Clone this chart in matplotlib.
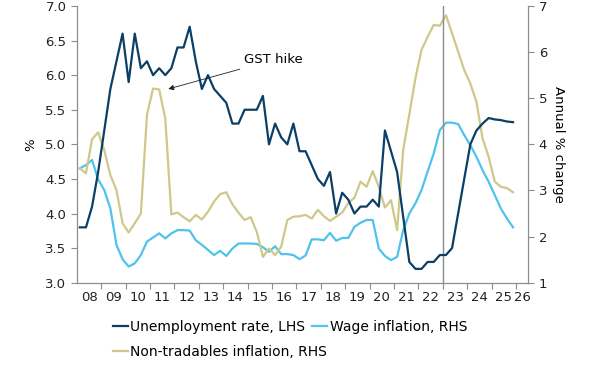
import numpy as np
import matplotlib
matplotlib.use("Agg")
import matplotlib.pyplot as plt

# quarterly data, 2008Q1 .. 2025Q4 (plotted at mid-quarter)
start_year = 2008
unemployment = [3.8, 3.8, 4.1, 4.6, 5.2, 5.8, 6.2, 6.6, 5.9, 6.6, 6.1, 6.2,
                6.0, 6.1, 6.0, 6.1, 6.4, 6.4, 6.7, 6.2, 5.8, 6.0, 5.8, 5.7,
                5.6, 5.3, 5.3, 5.5, 5.5, 5.5, 5.7, 5.0, 5.3, 5.1, 5.0, 5.3,
                4.9, 4.9, 4.7, 4.5, 4.4, 4.6, 4.0, 4.3, 4.2, 4.0, 4.1, 4.1,
                4.2, 4.1, 5.2, 4.9, 4.6, 3.95, 3.3, 3.2, 3.2, 3.3, 3.3, 3.4,
                3.4, 3.5, 4.0, 4.5, 5.0, 5.2, 5.3, 5.38, 5.36, 5.35, 5.33, 5.32]
wage_inflation = [3.48, 3.55, 3.66, 3.24, 3.01, 2.61, 1.82, 1.51, 1.35, 1.42, 1.60, 1.89,
                  1.98, 2.07, 1.96, 2.07, 2.14, 2.14, 2.13, 1.92, 1.82, 1.71, 1.60, 1.69,
                  1.58, 1.74, 1.85, 1.85, 1.85, 1.84, 1.77, 1.67, 1.79, 1.62, 1.62, 1.60,
                  1.51, 1.59, 1.94, 1.94, 1.92, 2.08, 1.91, 1.97, 1.97, 2.21, 2.30, 2.36,
                  2.36, 1.74, 1.58, 1.49, 1.56, 2.14, 2.50, 2.72, 3.01, 3.41, 3.80, 4.31,
                  4.47, 4.47, 4.44, 4.20, 3.98, 3.73, 3.44, 3.19, 2.90, 2.61, 2.39, 2.20]
non_tradables = [3.48, 3.37, 4.11, 4.26, 3.88, 3.33, 3.01, 2.29, 2.09, 2.29, 2.50, 4.64,
                 5.21, 5.19, 4.56, 2.48, 2.52, 2.42, 2.33, 2.47, 2.37, 2.54, 2.76, 2.92,
                 2.96, 2.70, 2.52, 2.36, 2.42, 2.10, 1.56, 1.74, 1.60, 1.78, 2.36, 2.43,
                 2.44, 2.47, 2.39, 2.58, 2.44, 2.34, 2.43, 2.52, 2.73, 2.84, 3.19, 3.08,
                 3.42, 3.08, 2.63, 2.79, 2.14, 3.88, 4.65, 5.43, 6.05, 6.33, 6.59, 6.57,
                 6.80, 6.41, 6.01, 5.61, 5.32, 4.92, 4.13, 3.73, 3.19, 3.08, 3.05, 2.96]
year_labels = ['08', '09', '10', '11', '12', '13', '14', '15', '16', '17',
               '18', '19', '20', '21', '22', '23', '24', '25', '26']

navy = '#0b3f66'
sky = '#4fc3ec'
khaki = '#cfc88a'
grey = '#8c8c8c'
fs = 9.5

x = start_year + 0.125 + 0.25 * np.arange(len(unemployment))

fig = plt.figure(figsize=(6, 3.68), dpi=100)
ax = fig.add_axes([0.128, 0.2318, 0.7525, 0.752])
ax2 = ax.twinx()

l1, = ax.plot(x, unemployment, color=navy, lw=1.6, zorder=3)
l2, = ax2.plot(x, wage_inflation, color=sky, lw=1.6)
l3, = ax2.plot(x, non_tradables, color=khaki, lw=1.6)
ax.set_zorder(ax2.get_zorder() + 1)
ax.patch.set_visible(False)

ax2.axvline(2023, color=grey, lw=1.0)

ax.set_xlim(2008, 2026.5)
ax.set_ylim(3.0, 7.0)
ax2.set_ylim(1, 7)
ax.set_yticks(np.arange(3.0, 7.01, 0.5))
ax.set_yticklabels([f'{v:.1f}' for v in np.arange(3.0, 7.01, 0.5)])
ax2.set_yticks(range(1, 8))

# year boundaries as ticks, labels centred in each year
ax.set_xticks(range(2009, 2027))
ax.set_xticklabels([])
label_pos = [start_year + i + 0.5 for i in range(len(year_labels) - 1)] + [2026.25]
ax.set_xticks(label_pos, minor=True)
ax.set_xticklabels(year_labels, minor=True)
ax.tick_params(axis='x', which='minor', length=0, pad=6)

for a in (ax, ax2):
    for s in a.spines.values():
        s.set_color(grey)
    a.spines['top'].set_visible(False)
    a.tick_params(which='major', color=grey, length=4, labelsize=fs, labelcolor='#222222')
    a.tick_params(which='minor', labelsize=fs, labelcolor='#222222')

ax.set_ylabel('%', fontsize=fs, labelpad=6)
ax2.set_ylabel('Annual % change', fontsize=fs, rotation=270, labelpad=13)

ax.annotate('GST hike', xy=(2011.75, 5.8), xytext=(2014.85, 6.22),
            fontsize=fs, va='center', ha='left',
            arrowprops=dict(arrowstyle='-|>', color='#222222', lw=0.6,
                            mutation_scale=8, shrinkA=1, shrinkB=0))

leg_kw = dict(frameon=False, fontsize=10, handlelength=1.08, handletextpad=0.18,
              borderpad=0, borderaxespad=0, loc='center left')
fig.legend([l1, l2], ['Unemployment rate, LHS', 'Wage inflation, RHS'], ncol=2,
           columnspacing=0.5, bbox_to_anchor=(113 / 600, 1 - 327 / 368), **leg_kw)
fig.legend([l3], ['Non-tradables inflation, RHS'],
           bbox_to_anchor=(113 / 600, 1 - 352 / 368), **leg_kw)

fig.savefig('out.png', dpi=100)
